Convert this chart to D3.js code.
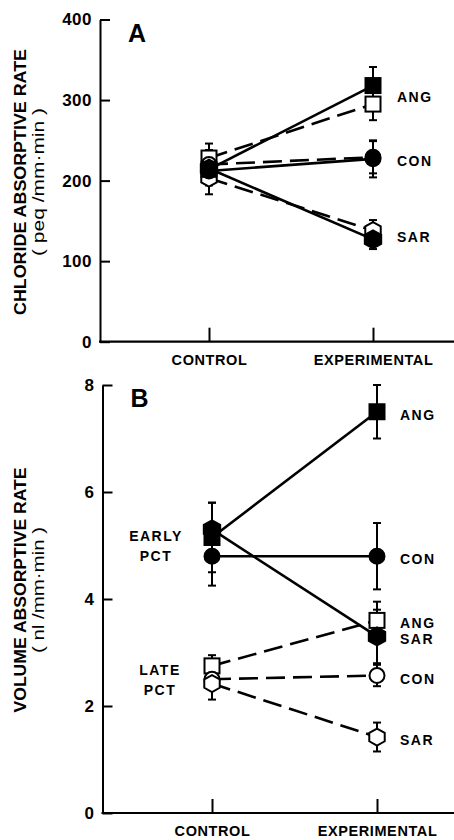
<!DOCTYPE html>
<meta charset="utf-8">
<style>
body { margin: 0; background: #fff; }
svg { display: block; }
text { font-family: "Liberation Sans", Arial, sans-serif; font-weight: bold; fill: #000; }
.axis path, .axis line { stroke: #000; stroke-width: 2px; }
.series { fill: none; stroke: #000; stroke-width: 2.6px; }
.late { stroke-dasharray: 19,8; }
.err line { stroke: #000; stroke-width: 2px; }
</style>
<svg width="454" height="840"></svg>
<script src="https://d3js.org/d3.v7.min.js"></script>
<script>

// ---- data ----
var categories = ["CONTROL", "EXPERIMENTAL"];
var groups = ["ANG", "CON", "SAR"];

// panel A : chloride absorptive rate (peq/mm·min)
var ticksA = [0, 100, 200, 300, 400];
var earlyA = [[214, 318], [212, 227], [215, 127]];     // solid, filled
var earlyErrA = [[18, 23], [18, 23], [18, 12]];
var lateA = [[228, 295], [220, 229], [203, 138]];      // dashed, open
var lateErrA = [[18, 20], [18, 20], [20, 13]];

// panel B : volume absorptive rate (nl/mm·min)
var ticksB = [0, 2, 4, 6, 8];
var earlyB = [[5.15, 7.5], [4.8, 4.8], [5.3, 3.3]];
var earlyErrB = [[0.65, 0.5], [0.55, 0.62], [0.5, 0.5]];
var lateB = [[2.75, 3.6], [2.5, 2.57], [2.42, 1.42]];
var lateErrB = [[0.2, 0.35], [0.2, 0.2], [0.3, 0.27]];

var svg = d3.select("svg");

function hexPath(r) {
  var pts = d3.range(6).map(function(i) {
    var a = Math.PI / 2 + i * Math.PI / 3;
    return [Math.cos(a) * r * 1.05, Math.sin(a) * r];
  });
  return "M" + pts.join("L") + "Z";
}

function marker(g, group, filled, cx, cy) {
  var fill = filled ? "#000" : "#fff";
  var m;
  if (group == "ANG") {
    m = g.append("rect").attr("x", cx - 7.5).attr("y", cy - 7.5)
      .attr("width", 15).attr("height", 15);
  } else if (group == "CON") {
    m = g.append("circle").attr("cx", cx).attr("cy", cy).attr("r", 7.5);
  } else {
    m = g.append("path").attr("d", hexPath(filled ? 9 : 8.5))
      .attr("transform", "translate(" + cx + "," + cy + ")");
  }
  m.attr("fill", fill).attr("stroke", "#000").attr("stroke-width", 2);
}

function panel(opt) {
  var g = svg.append("g");
  var x = d3.scalePoint().domain(categories).range(opt.xr);
  var y = d3.scaleLinear().domain(opt.yd).range(opt.yr);

  // y axis
  var ya = g.append("g").attr("class", "axis")
    .attr("transform", "translate(" + opt.ax + ",0)")
    .call(d3.axisLeft(y).tickValues(opt.ticks).tickSizeInner(-10).tickSizeOuter(0).tickPadding(opt.tp));
  ya.attr("font-family", null).attr("font-size", null);
  ya.selectAll("text").style("font-size", "17px").attr("letter-spacing", "0.5px");

  // x axis
  g.append("line").attr("x1", opt.ax - 1).attr("x2", 454)
    .attr("y1", y(0)).attr("y2", y(0))
    .attr("stroke", "#000").attr("stroke-width", 2.2);
  var xa = g.append("g").attr("class", "axis")
    .attr("transform", "translate(0," + y(0) + ")")
    .call(d3.axisBottom(x).tickSize(-14).tickPadding(13));
  xa.select(".domain").remove();
  xa.attr("font-family", null).attr("font-size", null);
  xa.selectAll("text").style("font-size", "14.5px").attr("letter-spacing", "0.6px");

  // panel letter
  g.append("text").attr("x", opt.ax + 28).attr("y", opt.yr[1] + 22)
    .style("font-size", "25px").text(opt.letter);

  // y titles
  g.append("text")
    .attr("transform", "translate(" + opt.tx + "," + opt.tcy + ") rotate(-90)")
    .attr("text-anchor", "middle").style("font-size", "16px")
    .attr("textLength", opt.tlen).attr("lengthAdjust", "spacingAndGlyphs")
    .text(opt.title);
  g.append("text")
    .attr("transform", "translate(" + (opt.tx + 18) + "," + opt.tcy + ") rotate(-90)")
    .attr("text-anchor", "middle").style("font-size", "16px").style("font-weight", "normal")
    .attr("textLength", opt.slen).attr("lengthAdjust", "spacingAndGlyphs")
    .text(opt.sub);

  var sets = [
    {vals: opt.late, errs: opt.lateErr, filled: false, cls: "series late"},
    {vals: opt.early, errs: opt.earlyErr, filled: true, cls: "series"}
  ];
  var line = d3.line().x(function(d, i) { return x(categories[i]); }).y(function(d) { return y(d); });

  sets.forEach(function(s) {
    g.selectAll(null).data(s.vals).enter().append("path")
      .attr("class", s.cls).attr("d", line);
  });

  sets.forEach(function(s) {
    s.vals.forEach(function(v, gi) {
      var eg = g.append("g").attr("class", "err");
      v.forEach(function(d, i) {
        var cx = x(categories[i]), e = s.errs[gi][i];
        eg.append("line").attr("x1", cx).attr("x2", cx).attr("y1", y(d + e)).attr("y2", y(d - e));
        [d + e, d - e].forEach(function(c) {
          eg.append("line").attr("x1", cx - 4).attr("x2", cx + 4).attr("y1", y(c)).attr("y2", y(c));
        });
      });
    });
  });

  sets.forEach(function(s) {
    s.vals.forEach(function(v, gi) {
      v.forEach(function(d, i) { marker(g, groups[gi], s.filled, x(categories[i]), y(d)); });
    });
  });

  return {g: g, x: x, y: y};
}

// ---- panel A ----
var A = panel({
  letter: "A", xr: [209, 373], yd: [0, 400], yr: [341.7, 19.5], ax: 100, tp: 8,
  ticks: ticksA, early: earlyA, earlyErr: earlyErrA, late: lateA, lateErr: lateErrA,
  title: "CHLORIDE ABSORPTIVE RATE", sub: "( peq /mm·min )", tx: 26, tcy: 182, tlen: 266, slen: 148
});
groups.forEach(function(name, i) {
  var v = (earlyA[i][1] + lateA[i][1]) / 2;
  A.g.append("text").attr("x", 397).attr("y", A.y(v) + 7.5)
    .style("font-size", "14px").attr("letter-spacing", "1.5px").text(name);
});

// ---- panel B ----
var B = panel({
  letter: "B", xr: [212, 377], yd: [0, 8], yr: [813, 385], ax: 102.5, tp: 8,
  ticks: ticksB, early: earlyB, earlyErr: earlyErrB, late: lateB, lateErr: lateErrB,
  title: "VOLUME ABSORPTIVE RATE", sub: "( nl /mm·min )", tx: 26, tcy: 590, tlen: 245, slen: 126
});
groups.forEach(function(name, i) {
  [earlyB[i][1], lateB[i][1]].forEach(function(v) {
    B.g.append("text").attr("x", 400).attr("y", B.y(v) + 8)
      .style("font-size", "14px").attr("letter-spacing", "1.5px").text(name);
  });
});
[["EARLY", "PCT", 156, 5.2], ["LATE", "PCT", 160, 2.7]].forEach(function(t) {
  var yc = B.y(t[3]);
  B.g.append("text").attr("x", t[2]).attr("y", yc + 6).attr("text-anchor", "middle")
    .style("font-size", "14px").attr("letter-spacing", "1.5px").text(t[0]);
  B.g.append("text").attr("x", t[2]).attr("y", yc + 26).attr("text-anchor", "middle")
    .style("font-size", "14px").attr("letter-spacing", "1.5px").text(t[1]);
});

</script>
